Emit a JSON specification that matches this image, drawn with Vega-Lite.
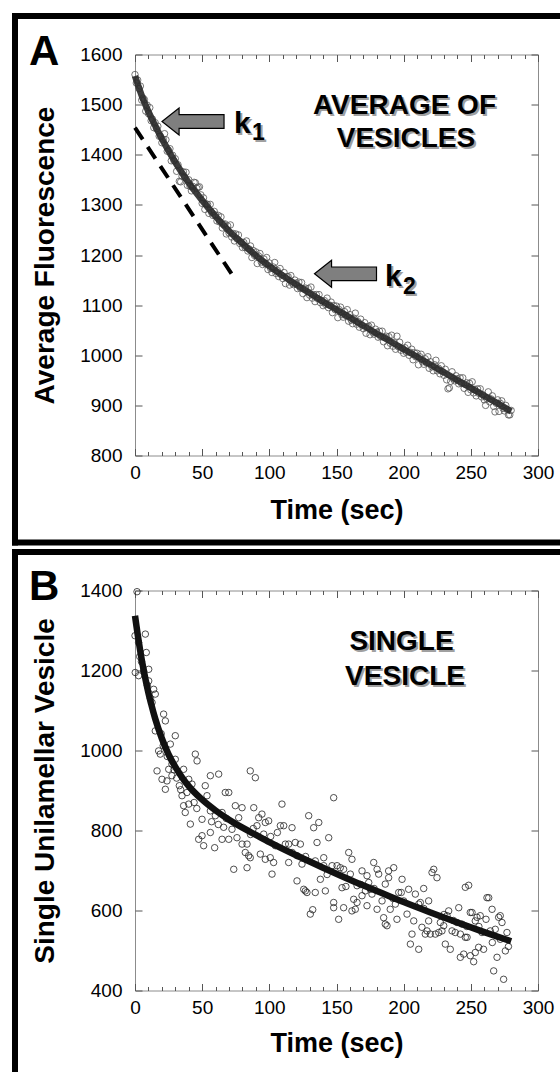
{
"$schema": "https://vega.github.io/schema/vega-lite/v6.json",
"padding": {"left": 10, "top": 10.5, "right": 0, "bottom": 0},
"autosize": {"type": "pad"},
"bounds": "flush",
"spacing": 135,
"config": {
  "font": "Liberation Sans",
  "view": {"stroke": "#8c8c8c", "strokeWidth": 1},
  "axis": {"grid": false, "domain": false, "format": "d", "labelFont": "Liberation Sans", "labelFontSize": 19, "labelColor": "#000", "titleFont": "Liberation Sans", "titleFontSize": 27, "titleFontWeight": "bold", "titleColor": "#000", "tickColor": "#555", "tickWidth": 1, "labelFlush": false, "labelOverlap": false, "labelBound": false},
  "text": {"font": "Liberation Sans"}
},
"datasets": {
  "pointsA": [
{"t":0,"v":1560},{"t":1,"v":1543},{"t":2,"v":1549},{"t":3,"v":1532},{"t":4,"v":1537},{"t":5,"v":1509},{"t":6,"v":1513},{"t":7,"v":1510},{"t":8,"v":1487},{"t":9,"v":1499},
{"t":10,"v":1482},{"t":11,"v":1494},{"t":12,"v":1468},{"t":13,"v":1471},{"t":14,"v":1454},{"t":15,"v":1464},{"t":16,"v":1452},{"t":17,"v":1457},{"t":18,"v":1437},{"t":19,"v":1437},
{"t":20,"v":1424},{"t":21,"v":1431},{"t":22,"v":1442},{"t":23,"v":1430},{"t":24,"v":1407},{"t":25,"v":1409},{"t":26,"v":1412},{"t":27,"v":1388},{"t":28,"v":1399},{"t":29,"v":1388},
{"t":30,"v":1392},{"t":31,"v":1367},{"t":32,"v":1380},{"t":33,"v":1347},{"t":34,"v":1346},{"t":35,"v":1357},{"t":36,"v":1366},{"t":37,"v":1355},{"t":38,"v":1365},{"t":39,"v":1339},
{"t":40,"v":1350},{"t":41,"v":1337},{"t":42,"v":1328},{"t":43,"v":1337},{"t":44,"v":1345},{"t":45,"v":1344},{"t":46,"v":1333},{"t":47,"v":1335},{"t":48,"v":1336},{"t":49,"v":1320},
{"t":50,"v":1303},{"t":51,"v":1314},{"t":52,"v":1291},{"t":53,"v":1302},{"t":54,"v":1301},{"t":55,"v":1283},{"t":56,"v":1301},{"t":57,"v":1285},{"t":58,"v":1279},{"t":59,"v":1287},
{"t":60,"v":1280},{"t":61,"v":1268},{"t":62,"v":1279},{"t":63,"v":1266},{"t":64,"v":1276},{"t":65,"v":1254},{"t":66,"v":1261},{"t":67,"v":1262},{"t":68,"v":1242},{"t":69,"v":1258},
{"t":70,"v":1244},{"t":71,"v":1260},{"t":72,"v":1236},{"t":73,"v":1243},{"t":74,"v":1228},{"t":75,"v":1242},{"t":76,"v":1232},{"t":77,"v":1240},{"t":78,"v":1223},{"t":79,"v":1226},
{"t":80,"v":1215},{"t":81,"v":1225},{"t":82,"v":1215},{"t":83,"v":1228},{"t":84,"v":1208},{"t":85,"v":1212},{"t":86,"v":1218},{"t":87,"v":1195},{"t":88,"v":1209},{"t":89,"v":1199},
{"t":90,"v":1206},{"t":91,"v":1183},{"t":92,"v":1198},{"t":93,"v":1203},{"t":94,"v":1186},{"t":95,"v":1181},{"t":96,"v":1192},{"t":97,"v":1183},{"t":98,"v":1195},{"t":99,"v":1171},
{"t":100,"v":1184},{"t":101,"v":1173},{"t":102,"v":1165},{"t":103,"v":1176},{"t":104,"v":1185},{"t":105,"v":1163},{"t":106,"v":1169},{"t":107,"v":1157},{"t":108,"v":1173},{"t":109,"v":1160},
{"t":110,"v":1153},{"t":111,"v":1165},{"t":112,"v":1143},{"t":113,"v":1157},{"t":114,"v":1157},{"t":115,"v":1140},{"t":116,"v":1159},{"t":117,"v":1144},{"t":118,"v":1141},{"t":119,"v":1150},
{"t":120,"v":1144},{"t":121,"v":1133},{"t":122,"v":1146},{"t":123,"v":1134},{"t":124,"v":1145},{"t":125,"v":1123},{"t":126,"v":1132},{"t":127,"v":1134},{"t":128,"v":1115},{"t":129,"v":1133},
{"t":130,"v":1120},{"t":131,"v":1136},{"t":132,"v":1114},{"t":133,"v":1121},{"t":134,"v":1107},{"t":135,"v":1121},{"t":136,"v":1113},{"t":137,"v":1121},{"t":138,"v":1105},{"t":139,"v":1109},
{"t":140,"v":1099},{"t":141,"v":1109},{"t":142,"v":1101},{"t":143,"v":1114},{"t":144,"v":1095},{"t":145,"v":1100},{"t":146,"v":1106},{"t":147,"v":1085},{"t":148,"v":1099},{"t":149,"v":1091},
{"t":150,"v":1098},{"t":151,"v":1075},{"t":152,"v":1091},{"t":153,"v":1096},{"t":154,"v":1081},{"t":155,"v":1076},{"t":156,"v":1087},{"t":157,"v":1079},{"t":158,"v":1091},{"t":159,"v":1068},
{"t":160,"v":1081},{"t":161,"v":1070},{"t":162,"v":1063},{"t":163,"v":1074},{"t":164,"v":1084},{"t":165,"v":1062},{"t":166,"v":1067},{"t":167,"v":1056},{"t":168,"v":1072},{"t":169,"v":1060},
{"t":170,"v":1053},{"t":171,"v":1065},{"t":172,"v":1044},{"t":173,"v":1057},{"t":174,"v":1058},{"t":175,"v":1041},{"t":176,"v":1060},{"t":177,"v":1046},{"t":178,"v":1042},{"t":179,"v":1052},
{"t":180,"v":1046},{"t":181,"v":1036},{"t":182,"v":1048},{"t":183,"v":1037},{"t":184,"v":1048},{"t":185,"v":1027},{"t":186,"v":1035},{"t":187,"v":1038},{"t":188,"v":1019},{"t":189,"v":1037},
{"t":190,"v":1024},{"t":191,"v":1040},{"t":192,"v":1018},{"t":193,"v":1025},{"t":194,"v":1012},{"t":195,"v":1038},{"t":196,"v":1017},{"t":197,"v":1026},{"t":198,"v":1010},{"t":199,"v":1014},
{"t":200,"v":1004},{"t":201,"v":1015},{"t":202,"v":1006},{"t":203,"v":1020},{"t":204,"v":1000},{"t":205,"v":1006},{"t":206,"v":1012},{"t":207,"v":991},{"t":208,"v":1005},{"t":209,"v":997},
{"t":210,"v":1004},{"t":211,"v":981},{"t":212,"v":997},{"t":213,"v":1002},{"t":214,"v":987},{"t":215,"v":982},{"t":216,"v":993},{"t":217,"v":985},{"t":218,"v":997},{"t":219,"v":974},
{"t":220,"v":987},{"t":221,"v":977},{"t":222,"v":969},{"t":223,"v":981},{"t":224,"v":990},{"t":225,"v":969},{"t":226,"v":974},{"t":227,"v":963},{"t":228,"v":979},{"t":229,"v":967},
{"t":230,"v":960},{"t":231,"v":972},{"t":232,"v":951},{"t":233,"v":933},{"t":234,"v":935},{"t":235,"v":948},{"t":236,"v":967},{"t":237,"v":953},{"t":238,"v":949},{"t":239,"v":959},
{"t":240,"v":953},{"t":241,"v":943},{"t":242,"v":955},{"t":243,"v":944},{"t":244,"v":955},{"t":245,"v":934},{"t":246,"v":942},{"t":247,"v":945},{"t":248,"v":926},{"t":249,"v":944},
{"t":250,"v":931},{"t":251,"v":947},{"t":252,"v":925},{"t":253,"v":932},{"t":254,"v":919},{"t":255,"v":933},{"t":256,"v":924},{"t":257,"v":933},{"t":258,"v":917},{"t":259,"v":921},
{"t":260,"v":911},{"t":261,"v":900},{"t":262,"v":913},{"t":263,"v":927},{"t":264,"v":907},{"t":265,"v":913},{"t":266,"v":919},{"t":267,"v":898},{"t":268,"v":887},{"t":269,"v":904},
{"t":270,"v":911},{"t":271,"v":888},{"t":272,"v":904},{"t":273,"v":909},{"t":274,"v":894},{"t":275,"v":889},{"t":276,"v":900},{"t":277,"v":892},{"t":278,"v":881},{"t":279,"v":881},{"t":280,"v":890}
  ],
  "fitA": [
{"t":0,"v":1557},{"t":5,"v":1518},{"t":10,"v":1486},{"t":15,"v":1458},{"t":20,"v":1432},{"t":25,"v":1408},{"t":30,"v":1385},{"t":35,"v":1364},{"t":40,"v":1344},{"t":45,"v":1326},{"t":50,"v":1309},{"t":60,"v":1277},{"t":70,"v":1248},{"t":80,"v":1223},{"t":90,"v":1199},{"t":100,"v":1178},{"t":110,"v":1159},{"t":120,"v":1141},{"t":130,"v":1124},{"t":140,"v":1107},{"t":150,"v":1091},{"t":160,"v":1075},{"t":170,"v":1059},{"t":180,"v":1043},{"t":190,"v":1028},{"t":200,"v":1012},{"t":210,"v":997},{"t":220,"v":981},{"t":230,"v":966},{"t":240,"v":950},{"t":250,"v":935},{"t":260,"v":919},{"t":270,"v":904},{"t":280,"v":888}
  ],
  "tangentA": [{"t":0,"v":1454},{"t":73.7,"v":1155}],
  "arrowsA": [{"t":43.2,"v":1466.3},{"t":156.7,"v":1162.5}],
  "annA": [
    {"kind":"panel","text":"A","t":-79,"v":1580},
    {"kind":"title","text":"AVERAGE OF","t":200.6,"v":1480.3},
    {"kind":"title","text":"VESICLES","t":201.7,"v":1414.5},
    {"kind":"k","text":"k","t":73.7,"v":1444},
    {"kind":"sub","text":"1","t":87.1,"v":1430},
    {"kind":"k","text":"k","t":186.1,"v":1139},
    {"kind":"sub","text":"2","t":199.5,"v":1123}
  ],
  "pointsB": [
{"t":1.5,"v":1397},{"t":0,"v":1287},{"t":7.7,"v":1291},{"t":2.7,"v":1270},{"t":8.4,"v":1245},{"t":0.2,"v":1195},{"t":2.7,"v":1187},{"t":6.4,"v":1199},{"t":10.2,"v":1203},{"t":10.2,"v":1174},
{"t":13.9,"v":1153},{"t":15.1,"v":1141},{"t":12.7,"v":1120},{"t":21.3,"v":1091},{"t":22.6,"v":1074},{"t":15.1,"v":1049},{"t":30,"v":1037},{"t":26.3,"v":1016},{"t":17.6,"v":999},{"t":18.8,"v":991},
{"t":44.9,"v":991},{"t":46.2,"v":974},{"t":30,"v":978},{"t":25.1,"v":953},{"t":16.4,"v":949},{"t":20.1,"v":928},{"t":23.8,"v":924},{"t":27.5,"v":937},{"t":22.6,"v":903},{"t":36.2,"v":953},
{"t":40,"v":928},{"t":42.4,"v":916},{"t":52.3,"v":912},{"t":56.1,"v":937},{"t":62.3,"v":941},{"t":67.2,"v":895},{"t":69.8,"v":895},{"t":85.8,"v":949},{"t":89.6,"v":932},{"t":53.6,"v":887},
{"t":35,"v":887},{"t":38.7,"v":895},{"t":3.5,"v":1235},{"t":4.8,"v":1222},{"t":9.2,"v":1163},{"t":11.5,"v":1130},{"t":19.5,"v":1042},{"t":21,"v":1012},{"t":24,"v":985},{"t":27.5,"v":966},
{"t":29,"v":952},{"t":31,"v":931},{"t":33,"v":912},{"t":34,"v":902},{"t":44,"v":870},{"t":46,"v":855},{"t":57,"v":822},{"t":62,"v":815},{"t":68,"v":830},{"t":86,"v":790},
{"t":88,"v":805},{"t":101,"v":785},{"t":106,"v":795},{"t":117,"v":745},{"t":127,"v":735},{"t":143,"v":690},{"t":157,"v":660},{"t":168,"v":665},{"t":178,"v":655},{"t":192,"v":630},
{"t":215,"v":605},{"t":230,"v":590},{"t":237,"v":575},{"t":247,"v":560},{"t":256,"v":560},{"t":266,"v":520},{"t":278,"v":510},
{"t":36.2,"v":862},{"t":40,"v":866},{"t":37.4,"v":845},{"t":41.2,"v":816},{"t":49.9,"v":828},{"t":56.1,"v":849},{"t":59.8,"v":837},{"t":64.8,"v":845},{"t":66,"v":808},{"t":47.4,"v":778},
{"t":49.9,"v":787},{"t":56.1,"v":795},{"t":51.1,"v":762},{"t":59.3,"v":757},{"t":64.8,"v":778},{"t":69.8,"v":778},{"t":74.7,"v":862},{"t":79.7,"v":857},{"t":77.2,"v":832},{"t":72.2,"v":803},
{"t":75.9,"v":782},{"t":79.7,"v":766},{"t":83.4,"v":766},{"t":84.6,"v":737},{"t":82.1,"v":745},{"t":85.8,"v":732},{"t":73.5,"v":703},{"t":83.4,"v":707},{"t":88.4,"v":857},{"t":94.5,"v":841},
{"t":92.1,"v":832},{"t":97,"v":820},{"t":99.5,"v":824},{"t":90.8,"v":812},{"t":95.8,"v":791},{"t":93.3,"v":741},{"t":97,"v":728},{"t":100.7,"v":732},{"t":103.2,"v":720},{"t":102,"v":691},
{"t":104.5,"v":762},{"t":108.2,"v":812},
{"t":109.4,"v":866},{"t":110.7,"v":812},{"t":116.9,"v":807},{"t":111.9,"v":766},{"t":114.4,"v":766},{"t":119.3,"v":770},{"t":123.1,"v":766},{"t":114.4,"v":720},{"t":120.6,"v":737},{"t":124.3,"v":716},
{"t":120.6,"v":674},{"t":125.6,"v":653},{"t":126.8,"v":649},{"t":128,"v":645},{"t":129.3,"v":837},{"t":133,"v":807},{"t":136.8,"v":820},{"t":135.5,"v":770},{"t":134.2,"v":724},{"t":140.5,"v":712},
{"t":138,"v":678},{"t":134.2,"v":645},{"t":130.5,"v":591},{"t":132.3,"v":602},{"t":141.7,"v":649},{"t":144.2,"v":782},{"t":140.5,"v":732},{"t":150.4,"v":712},{"t":152.8,"v":707},{"t":155.3,"v":703},
{"t":147.9,"v":620},{"t":147.9,"v":607},{"t":151.6,"v":578},{"t":155.3,"v":607},{"t":154.1,"v":657},{"t":159.1,"v":745},{"t":161.5,"v":728},{"t":160.3,"v":691},{"t":161.5,"v":599},{"t":164,"v":603},
{"t":162.8,"v":628},{"t":165.3,"v":620},{"t":169,"v":699},{"t":172.7,"v":687},{"t":171.5,"v":649},{"t":172.7,"v":612},{"t":169,"v":637},{"t":177.7,"v":720},{"t":175.2,"v":653},{"t":176.4,"v":641},
{"t":180.2,"v":703},{"t":181.4,"v":691},{"t":180.2,"v":603},{"t":183.9,"v":624},{"t":186.3,"v":666},{"t":185.1,"v":582},{"t":186.3,"v":566},{"t":187.6,"v":562},{"t":188.8,"v":699},{"t":188.8,"v":682},
{"t":192.6,"v":707},{"t":190,"v":603},{"t":193.8,"v":616},{"t":195,"v":578},{"t":196.3,"v":645},{"t":198.2,"v":645},{"t":198.8,"v":678},{"t":200,"v":624},{"t":202.5,"v":591},{"t":203.7,"v":653},
{"t":206.2,"v":541},{"t":205,"v":516},{"t":207.5,"v":574},{"t":208.7,"v":641},{"t":211.2,"v":616},{"t":211.2,"v":503},{"t":212.4,"v":620},{"t":213.6,"v":558},{"t":214.9,"v":655},{"t":217.4,"v":549},
{"t":218.6,"v":624},{"t":218.6,"v":574},{"t":221.1,"v":695},{"t":222.4,"v":703},{"t":224.8,"v":682},{"t":216.1,"v":541},{"t":219.8,"v":541},{"t":223.6,"v":541},{"t":226.1,"v":545},{"t":227.3,"v":570},
{"t":229.8,"v":562},{"t":231,"v":516},{"t":228.5,"v":549},{"t":232.3,"v":587},{"t":233.5,"v":599},{"t":234.7,"v":503},{"t":236,"v":549},{"t":238.4,"v":545},{"t":241,"v":607},{"t":239.7,"v":570},
{"t":242.2,"v":541},{"t":243.4,"v":566},{"t":242.2,"v":483},{"t":244.7,"v":491},{"t":245.9,"v":533},{"t":247.2,"v":533},{"t":245.9,"v":658},{"t":248.4,"v":663},{"t":249.6,"v":595},{"t":250.9,"v":595},
{"t":252.1,"v":472},{"t":249.6,"v":487},{"t":253.3,"v":495},{"t":253.3,"v":574},{"t":254.6,"v":583},{"t":255.8,"v":508},{"t":257,"v":587},{"t":258.3,"v":545},{"t":259.5,"v":503},{"t":261.3,"v":578},
{"t":262,"v":632},{"t":263.3,"v":632},{"t":264.5,"v":549},{"t":265.8,"v":603},{"t":267,"v":449},{"t":269.5,"v":483},{"t":270.7,"v":583},{"t":271.9,"v":587},{"t":273.2,"v":570},{"t":274.4,"v":428},
{"t":275.7,"v":499},{"t":276.9,"v":545},{"t":271.9,"v":528},{"t":268.2,"v":553},{"t":174,"v":670},{"t":165.3,"v":662},{"t":146.7,"v":712},{"t":147.9,"v":882}
  ],
  "fitB": [
{"t":0,"v":1337},{"t":1,"v":1313},{"t":2,"v":1290},{"t":3,"v":1268},{"t":4,"v":1247},{"t":6,"v":1209},{"t":8,"v":1175},{"t":10,"v":1144},{"t":12,"v":1117},{"t":15,"v":1080},{"t":20,"v":1030},{"t":25,"v":990},{"t":30,"v":959},{"t":35,"v":933},{"t":40,"v":911},{"t":50,"v":877},{"t":60,"v":850},{"t":70,"v":827},{"t":80,"v":807},{"t":90,"v":789},{"t":100,"v":771},{"t":120,"v":738},{"t":140,"v":707},{"t":160,"v":677},{"t":180,"v":649},{"t":200,"v":621},{"t":220,"v":595},{"t":240,"v":570},{"t":260,"v":546},{"t":280,"v":523}
  ],
  "annB": [
    {"kind":"panel","text":"B","t":-79,"v":1377.5},
    {"kind":"title","text":"SINGLE","t":198.4,"v":1252.5},
    {"kind":"title","text":"VESICLE","t":201,"v":1165}
  ]
},
"vconcat": [
{
  "width": 403, "height": 401,
  "resolve": {"axis": {"x": "independent", "y": "independent"}},
  "layer": [
    {"data": {"values": [{}]}, "mark": {"type": "rule", "strokeWidth": 6, "strokeCap": "square", "color": "black"},
     "encoding": {"x": {"datum": -89.33, "type": "quantitative", "scale": {"domain": [0, 300], "nice": false, "zero": false}, "axis": null}, "x2": {"datum": 315.63},
                  "y": {"datum": 1676.81, "type": "quantitative", "scale": {"domain": [800, 1600], "nice": false, "zero": false}, "axis": null}}},
    {"data": {"values": [{}]}, "mark": {"type": "rule", "strokeWidth": 6, "strokeCap": "square", "color": "black"},
     "encoding": {"x": {"datum": -89.33, "type": "quantitative", "scale": {"domain": [0, 300], "nice": false, "zero": false}, "axis": null},
                  "y": {"datum": 1676.81, "type": "quantitative", "scale": {"domain": [800, 1600], "nice": false, "zero": false}, "axis": null}, "y2": {"datum": 626.43}}},
    {"data": {"values": [{}]}, "mark": {"type": "rule", "strokeWidth": 6, "strokeCap": "square", "color": "black"},
     "encoding": {"x": {"datum": -89.33, "type": "quantitative", "scale": {"domain": [0, 300], "nice": false, "zero": false}, "axis": null}, "x2": {"datum": 315.63},
                  "y": {"datum": 626.43, "type": "quantitative", "scale": {"domain": [800, 1600], "nice": false, "zero": false}, "axis": null}}},
    {"data": {"name": "pointsA"},
     "mark": {"type": "point", "filled": false, "size": 42, "strokeWidth": 0.8, "color": "#555", "opacity": 1},
     "encoding": {
       "x": {"field": "t", "type": "quantitative", "scale": {"domain": [0, 300], "nice": false, "zero": false},
             "axis": {"orient": "bottom", "values": [0,50,100,150,200,250,300], "ticks": false, "labelPadding": 8, "title": "Time (sec)", "titlePadding": 15}},
       "y": {"field": "v", "type": "quantitative", "scale": {"domain": [800, 1600], "nice": false, "zero": false},
             "axis": {"orient": "left", "values": [800,900,1000,1100,1200,1300,1400,1500,1600], "ticks": false, "labelPadding": 13, "title": "Average Fluorescence", "titlePadding": 20, "titleFontSize": 28}}}},
    {"data": {"name": "fitA"},
     "mark": {"type": "line", "strokeWidth": 6.5, "color": "#2b2b2b", "opacity": 0.92, "interpolate": "monotone"},
     "encoding": {
       "x": {"field": "t", "type": "quantitative", "scale": {"domain": [0, 300], "nice": false, "zero": false},
             "axis": {"orient": "bottom", "values": [0,10,20,30,40,50,60,70,80,90,100,110,120,130,140,150,160,170,180,190,200,210,220,230,240,250,260,270,280,290,300], "tickSize": -4, "labels": false, "title": null}},
       "y": {"field": "v", "type": "quantitative", "scale": {"domain": [800, 1600], "nice": false, "zero": false},
             "axis": {"orient": "right", "values": [800,900,1000,1100,1200,1300,1400,1500,1600], "tickSize": -7, "labels": false, "title": null}}}},
    {"data": {"name": "tangentA"},
     "mark": {"type": "line", "strokeWidth": 4, "color": "black", "strokeDash": [14, 9]},
     "encoding": {
       "x": {"field": "t", "type": "quantitative", "scale": {"domain": [0, 300], "nice": false, "zero": false},
             "axis": {"orient": "bottom", "values": [0,50,100,150,200,250,300], "tickSize": -7, "labels": false, "title": null}},
       "y": {"field": "v", "type": "quantitative", "scale": {"domain": [800, 1600], "nice": false, "zero": false},
             "axis": {"orient": "left", "values": [800,900,1000,1100,1200,1300,1400,1500,1600], "tickSize": -7, "labels": false, "title": null}}}},
    {"data": {"name": "arrowsA"},
     "mark": {"type": "point", "shape": "M -1 0 L -0.45 -0.435 L -0.45 -0.22 L 1 -0.22 L 1 0.22 L -0.45 0.22 L -0.45 0.435 Z", "size": 3844, "filled": true, "fill": "#7f7f7f", "stroke": "black", "strokeWidth": 1.2, "opacity": 1, "fillOpacity": 1, "strokeOpacity": 1},
     "encoding": {
       "x": {"field": "t", "type": "quantitative", "scale": {"domain": [0, 300], "nice": false, "zero": false},
             "axis": {"orient": "top", "values": [0,10,20,30,40,50,60,70,80,90,100,110,120,130,140,150,160,170,180,190,200,210,220,230,240,250,260,270,280,290,300], "tickSize": -4, "labels": false, "title": null}},
       "y": {"field": "v", "type": "quantitative", "scale": {"domain": [800, 1600], "nice": false, "zero": false}, "axis": null}}},
    {"data": {"name": "annA"}, "transform": [{"filter": "datum.kind == 'panel'"}],
     "mark": {"type": "text", "fontSize": 42, "fontWeight": "bold", "align": "left", "baseline": "alphabetic", "color": "black"},
     "encoding": {
       "x": {"field": "t", "type": "quantitative", "scale": {"domain": [0, 300], "nice": false, "zero": false},
             "axis": {"orient": "top", "values": [0,50,100,150,200,250,300], "tickSize": -7, "labels": false, "title": null}},
       "y": {"field": "v", "type": "quantitative", "scale": {"domain": [800, 1600], "nice": false, "zero": false}, "axis": null},
       "text": {"field": "text"}}},
    {"data": {"name": "annA"}, "transform": [{"filter": "datum.kind == 'title'"}],
     "mark": {"type": "text", "fontSize": 28, "fontWeight": "bold", "align": "center", "baseline": "alphabetic", "color": "#a0a0a0", "dx": 2, "dy": 2},
     "encoding": {
       "x": {"field": "t", "type": "quantitative", "scale": {"domain": [0, 300], "nice": false, "zero": false}, "axis": null},
       "y": {"field": "v", "type": "quantitative", "scale": {"domain": [800, 1600], "nice": false, "zero": false}, "axis": null},
       "text": {"field": "text"}}},
    {"data": {"name": "annA"}, "transform": [{"filter": "datum.kind == 'title'"}],
     "mark": {"type": "text", "fontSize": 28, "fontWeight": "bold", "align": "center", "baseline": "alphabetic", "color": "black"},
     "encoding": {
       "x": {"field": "t", "type": "quantitative", "scale": {"domain": [0, 300], "nice": false, "zero": false}, "axis": null},
       "y": {"field": "v", "type": "quantitative", "scale": {"domain": [800, 1600], "nice": false, "zero": false}, "axis": null},
       "text": {"field": "text"}}},
    {"data": {"name": "annA"}, "transform": [{"filter": "datum.kind == 'k'"}],
     "mark": {"type": "text", "fontSize": 30, "fontWeight": "bold", "align": "left", "baseline": "alphabetic", "color": "#a0a0a0", "dx": 2, "dy": 2},
     "encoding": {
       "x": {"field": "t", "type": "quantitative", "scale": {"domain": [0, 300], "nice": false, "zero": false}, "axis": null},
       "y": {"field": "v", "type": "quantitative", "scale": {"domain": [800, 1600], "nice": false, "zero": false}, "axis": null},
       "text": {"field": "text"}}},
    {"data": {"name": "annA"}, "transform": [{"filter": "datum.kind == 'k'"}],
     "mark": {"type": "text", "fontSize": 30, "fontWeight": "bold", "align": "left", "baseline": "alphabetic", "color": "black"},
     "encoding": {
       "x": {"field": "t", "type": "quantitative", "scale": {"domain": [0, 300], "nice": false, "zero": false}, "axis": null},
       "y": {"field": "v", "type": "quantitative", "scale": {"domain": [800, 1600], "nice": false, "zero": false}, "axis": null},
       "text": {"field": "text"}}},
    {"data": {"name": "annA"}, "transform": [{"filter": "datum.kind == 'sub'"}],
     "mark": {"type": "text", "fontSize": 23, "fontWeight": "bold", "align": "left", "baseline": "alphabetic", "color": "#a0a0a0", "dx": 2, "dy": 2},
     "encoding": {
       "x": {"field": "t", "type": "quantitative", "scale": {"domain": [0, 300], "nice": false, "zero": false}, "axis": null},
       "y": {"field": "v", "type": "quantitative", "scale": {"domain": [800, 1600], "nice": false, "zero": false}, "axis": null},
       "text": {"field": "text"}}},
    {"data": {"name": "annA"}, "transform": [{"filter": "datum.kind == 'sub'"}],
     "mark": {"type": "text", "fontSize": 23, "fontWeight": "bold", "align": "left", "baseline": "alphabetic", "color": "black"},
     "encoding": {
       "x": {"field": "t", "type": "quantitative", "scale": {"domain": [0, 300], "nice": false, "zero": false}, "axis": null},
       "y": {"field": "v", "type": "quantitative", "scale": {"domain": [800, 1600], "nice": false, "zero": false}, "axis": null},
       "text": {"field": "text"}}}
  ]
},
{
  "width": 403, "height": 400,
  "resolve": {"axis": {"x": "independent", "y": "independent"}},
  "layer": [
    {"data": {"values": [{}]}, "mark": {"type": "rule", "strokeWidth": 6, "strokeCap": "square", "color": "black"},
     "encoding": {"x": {"datum": -89.33, "type": "quantitative", "scale": {"domain": [0, 300], "nice": false, "zero": false}, "axis": null}, "x2": {"datum": 315.63},
                  "y": {"datum": 1496.25, "type": "quantitative", "scale": {"domain": [400, 1400], "nice": false, "zero": false}, "axis": null}}},
    {"data": {"values": [{}]}, "mark": {"type": "rule", "strokeWidth": 6, "strokeCap": "square", "color": "black"},
     "encoding": {"x": {"datum": -89.33, "type": "quantitative", "scale": {"domain": [0, 300], "nice": false, "zero": false}, "axis": null},
                  "y": {"datum": 1496.25, "type": "quantitative", "scale": {"domain": [400, 1400], "nice": false, "zero": false}, "axis": null}, "y2": {"datum": 197.5}}},
    {"data": {"name": "pointsB"},
     "mark": {"type": "point", "filled": false, "size": 42, "strokeWidth": 0.8, "color": "#222", "opacity": 1},
     "encoding": {
       "x": {"field": "t", "type": "quantitative", "scale": {"domain": [0, 300], "nice": false, "zero": false},
             "axis": {"orient": "bottom", "values": [0,50,100,150,200,250,300], "ticks": false, "labelPadding": 8, "title": "Time (sec)", "titlePadding": 13}},
       "y": {"field": "v", "type": "quantitative", "scale": {"domain": [400, 1400], "nice": false, "zero": false},
             "axis": {"orient": "left", "values": [400,600,800,1000,1200,1400], "ticks": false, "labelPadding": 13, "title": "Single Unilamellar Vesicle", "titlePadding": 20, "titleFontSize": 28}}}},
    {"data": {"name": "fitB"},
     "mark": {"type": "line", "strokeWidth": 6.5, "color": "#111", "interpolate": "monotone"},
     "encoding": {
       "x": {"field": "t", "type": "quantitative", "scale": {"domain": [0, 300], "nice": false, "zero": false},
             "axis": {"orient": "bottom", "values": [0,10,20,30,40,50,60,70,80,90,100,110,120,130,140,150,160,170,180,190,200,210,220,230,240,250,260,270,280,290,300], "tickSize": -4, "labels": false, "title": null}},
       "y": {"field": "v", "type": "quantitative", "scale": {"domain": [400, 1400], "nice": false, "zero": false},
             "axis": {"orient": "right", "values": [400,600,800,1000,1200,1400], "tickSize": -7, "labels": false, "title": null}}}},
    {"data": {"name": "annB"}, "transform": [{"filter": "datum.kind == 'panel'"}],
     "mark": {"type": "text", "fontSize": 42, "fontWeight": "bold", "align": "left", "baseline": "alphabetic", "color": "black"},
     "encoding": {
       "x": {"field": "t", "type": "quantitative", "scale": {"domain": [0, 300], "nice": false, "zero": false},
             "axis": {"orient": "bottom", "values": [0,50,100,150,200,250,300], "tickSize": -7, "labels": false, "title": null}},
       "y": {"field": "v", "type": "quantitative", "scale": {"domain": [400, 1400], "nice": false, "zero": false},
             "axis": {"orient": "left", "values": [400,600,800,1000,1200,1400], "tickSize": -7, "labels": false, "title": null}},
       "text": {"field": "text"}}},
    {"data": {"name": "annB"}, "transform": [{"filter": "datum.kind == 'title'"}],
     "mark": {"type": "text", "fontSize": 28, "fontWeight": "bold", "align": "center", "baseline": "alphabetic", "color": "#a0a0a0", "dx": 2, "dy": 2},
     "encoding": {
       "x": {"field": "t", "type": "quantitative", "scale": {"domain": [0, 300], "nice": false, "zero": false},
             "axis": {"orient": "top", "values": [0,10,20,30,40,50,60,70,80,90,100,110,120,130,140,150,160,170,180,190,200,210,220,230,240,250,260,270,280,290,300], "tickSize": -4, "labels": false, "title": null}},
       "y": {"field": "v", "type": "quantitative", "scale": {"domain": [400, 1400], "nice": false, "zero": false}, "axis": null},
       "text": {"field": "text"}}},
    {"data": {"name": "annB"}, "transform": [{"filter": "datum.kind == 'title'"}],
     "mark": {"type": "text", "fontSize": 28, "fontWeight": "bold", "align": "center", "baseline": "alphabetic", "color": "black"},
     "encoding": {
       "x": {"field": "t", "type": "quantitative", "scale": {"domain": [0, 300], "nice": false, "zero": false},
             "axis": {"orient": "top", "values": [0,50,100,150,200,250,300], "tickSize": -7, "labels": false, "title": null}},
       "y": {"field": "v", "type": "quantitative", "scale": {"domain": [400, 1400], "nice": false, "zero": false}, "axis": null},
       "text": {"field": "text"}}}
  ]
}
]
}
